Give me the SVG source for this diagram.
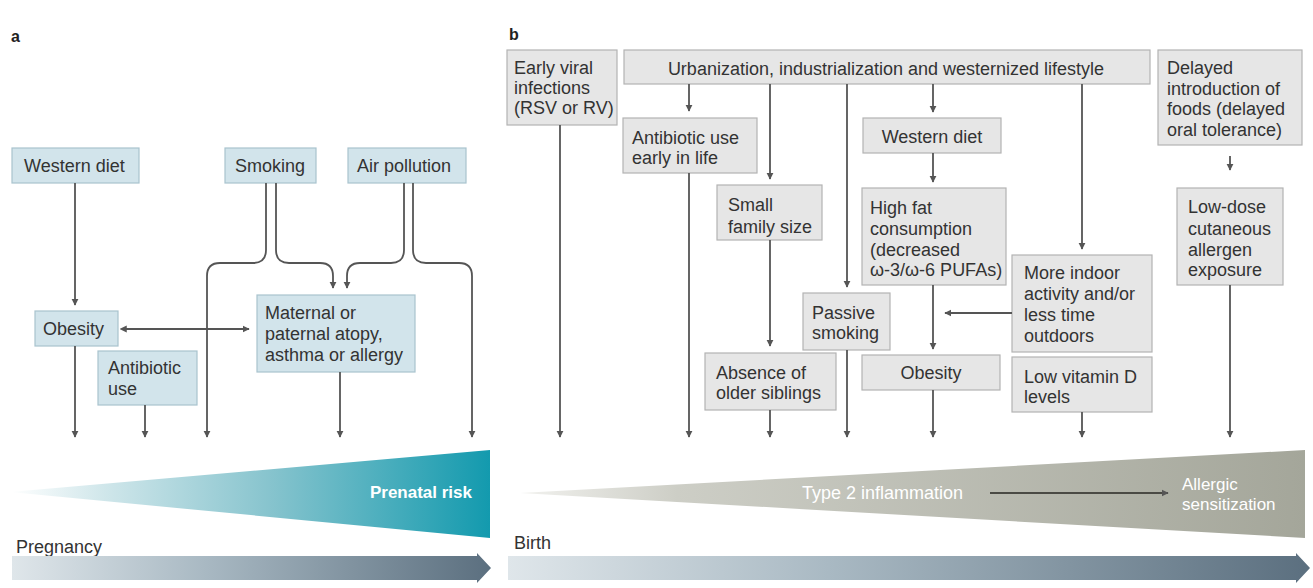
<svg xmlns="http://www.w3.org/2000/svg" width="1313" height="588" viewBox="0 0 1313 588">
<defs>
<style>
.t{font-family:"Liberation Sans",Arial,sans-serif;font-size:18px;fill:#333}
.lbl{font-family:"Liberation Sans",Arial,sans-serif;font-size:16px;font-weight:bold;fill:#222}
.ba{fill:#d2e4eb;stroke:#a9c3ce;stroke-width:1.2}
.bb{fill:#e6e6e6;stroke:#b3b3b3;stroke-width:1.2}
.c{fill:none;stroke:#555;stroke-width:1.8}
.w{font-family:"Liberation Sans",Arial,sans-serif;fill:#fff}
</style>
<marker id="ah" viewBox="0 0 10 10" refX="9" refY="5" markerWidth="4" markerHeight="4" orient="auto" markerUnits="strokeWidth">
<path d="M0,0 L10,5 L0,10 z" fill="#555"/>
</marker>
<marker id="ahs" viewBox="0 0 10 10" refX="1" refY="5" markerWidth="4" markerHeight="4" orient="auto-start-reverse" markerUnits="strokeWidth">
<path d="M0,0 L10,5 L0,10 z" fill="#555"/>
</marker>
<linearGradient id="gTeal" x1="0" y1="0" x2="1" y2="0">
<stop offset="0" stop-color="#ffffff"/>
<stop offset="0.2" stop-color="#cfe6ea"/>
<stop offset="0.55" stop-color="#85c3cd"/>
<stop offset="1" stop-color="#139aae"/>
</linearGradient>
<linearGradient id="gGrey" x1="0" y1="0" x2="1" y2="0">
<stop offset="0" stop-color="#f2f2ef"/>
<stop offset="0.2" stop-color="#cdcec6"/>
<stop offset="1" stop-color="#a4a69a"/>
</linearGradient>
<linearGradient id="gBar" x1="0" y1="0" x2="1" y2="0">
<stop offset="0" stop-color="#dfe6ea"/>
<stop offset="0.4" stop-color="#a9b9c3"/>
<stop offset="1" stop-color="#5b6f7f"/>
</linearGradient>
</defs>

<rect width="1313" height="588" fill="#ffffff"/>

<!-- Panel labels -->
<text class="lbl" x="11" y="42">a</text>
<text class="lbl" x="509" y="40">b</text>

<!-- Panel a nodes -->
<g id="a-western-diet"><rect class="ba" x="12" y="148" width="127" height="35"/><text class="t" x="24" y="172">Western diet</text></g>
<g id="a-smoking"><rect class="ba" x="225" y="148" width="91" height="35"/><text class="t" x="235" y="172">Smoking</text></g>
<g id="a-air-pollution"><rect class="ba" x="348" y="148" width="118" height="35"/><text class="t" x="357" y="172">Air pollution</text></g>
<g id="a-obesity"><rect class="ba" x="35" y="311" width="83" height="35"/><text class="t" x="43" y="335">Obesity</text></g>
<g id="a-antibiotic"><rect class="ba" x="98" y="351" width="99" height="54"/><text class="t" x="108" y="374">Antibiotic</text><text class="t" x="108" y="395">use</text></g>
<g id="a-maternal"><rect class="ba" x="257" y="295" width="158" height="77"/><text class="t" x="265" y="319">Maternal or</text><text class="t" x="265" y="340">paternal atopy,</text><text class="t" x="265" y="361">asthma or allergy</text></g>

<!-- Panel a connectors -->
<g id="a-connectors">
<path class="c" marker-end="url(#ah)" d="M75,183 V305"/>
<path class="c" marker-end="url(#ah)" d="M75,346 V437"/>
<path class="c" marker-end="url(#ah)" d="M145,405 V437"/>
<path class="c" marker-start="url(#ahs)" marker-end="url(#ah)" d="M126,329 H249"/>
<path class="c" marker-end="url(#ah)" d="M266,183 V250 Q266,263 253,263 H220 Q207,263 207,276 V437"/>
<path class="c" marker-end="url(#ah)" d="M276,183 V250 Q276,263 289,263 H320 Q333,263 333,276 V288"/>
<path class="c" marker-end="url(#ah)" d="M404,183 V250 Q404,263 391,263 H360 Q347,263 347,276 V288"/>
<path class="c" marker-end="url(#ah)" d="M413,183 V250 Q413,263 426,263 H459 Q472,263 472,276 V437"/>
<path class="c" marker-end="url(#ah)" d="M340,372 V437"/>
</g>

<!-- Panel a risk wedge and timeline -->
<g id="a-prenatal-risk">
<polygon points="10,492 490,450 490,538" fill="url(#gTeal)"/>
<text class="w" x="472" y="498" font-size="17" font-weight="bold" text-anchor="end">Prenatal risk</text>
</g>
<g id="a-pregnancy">
<text class="t" x="16" y="553" font-size="17">Pregnancy</text>
<polygon points="12,556 477,556 477,553 491,568 477,583 477,580 12,580" fill="url(#gBar)"/>
</g>

<!-- Panel b nodes -->
<g id="b-early-viral"><rect class="bb" x="507" y="50" width="110" height="75"/><text class="t" x="514" y="74">Early viral</text><text class="t" x="514" y="94">infections</text><text class="t" x="514" y="114" font-size="17">(RSV or RV)</text></g>
<g id="b-urbanization"><rect class="bb" x="624" y="50" width="526" height="34"/><text class="t" x="886" y="75" text-anchor="middle">Urbanization, industrialization and westernized lifestyle</text></g>
<g id="b-delayed"><rect class="bb" x="1158" y="50" width="144" height="95"/><text class="t" x="1167" y="74">Delayed</text><text class="t" x="1167" y="95">introduction of</text><text class="t" x="1167" y="115">foods (delayed</text><text class="t" x="1167" y="136">oral tolerance)</text></g>
<g id="b-antibiotic"><rect class="bb" x="623" y="118" width="134" height="55"/><text class="t" x="632" y="144">Antibiotic use</text><text class="t" x="632" y="164">early in life</text></g>
<g id="b-western-diet"><rect class="bb" x="863" y="118" width="138" height="35"/><text class="t" x="932" y="143" text-anchor="middle">Western diet</text></g>
<g id="b-small-family"><rect class="bb" x="717" y="185" width="105" height="55"/><text class="t" x="728" y="211">Small</text><text class="t" x="728" y="233">family size</text></g>
<g id="b-high-fat"><rect class="bb" x="862" y="188" width="144" height="97"/><text class="t" x="870" y="214">High fat</text><text class="t" x="870" y="235">consumption</text><text class="t" x="870" y="256">(decreased</text><text class="t" x="870" y="276">ω-3/ω-6 PUFAs)</text></g>
<g id="b-low-dose"><rect class="bb" x="1177" y="188" width="106" height="97"/><text class="t" x="1188" y="213">Low-dose</text><text class="t" x="1188" y="235">cutaneous</text><text class="t" x="1188" y="256">allergen</text><text class="t" x="1188" y="276">exposure</text></g>
<g id="b-indoor"><rect class="bb" x="1012" y="255" width="140" height="97"/><text class="t" x="1024" y="279">More indoor</text><text class="t" x="1024" y="300">activity and/or</text><text class="t" x="1024" y="321">less time</text><text class="t" x="1024" y="342">outdoors</text></g>
<g id="b-vitamin-d"><rect class="bb" x="1012" y="357" width="140" height="55"/><text class="t" x="1024" y="383">Low vitamin D</text><text class="t" x="1024" y="403">levels</text></g>
<g id="b-passive-smoking"><rect class="bb" x="803" y="293" width="87" height="57"/><text class="t" x="812" y="319">Passive</text><text class="t" x="812" y="339">smoking</text></g>
<g id="b-obesity"><rect class="bb" x="862" y="355" width="138" height="35"/><text class="t" x="931" y="379" text-anchor="middle">Obesity</text></g>
<g id="b-siblings"><rect class="bb" x="705" y="353" width="131" height="57"/><text class="t" x="716" y="379">Absence of</text><text class="t" x="716" y="399">older siblings</text></g>

<!-- Panel b connectors -->
<g id="b-connectors">
<path class="c" marker-end="url(#ah)" d="M560,125 V437"/>
<path class="c" marker-end="url(#ah)" d="M689,84 V111"/>
<path class="c" marker-end="url(#ah)" d="M689,173 V437"/>
<path class="c" marker-end="url(#ah)" d="M770,84 V179"/>
<path class="c" marker-end="url(#ah)" d="M770,240 V346"/>
<path class="c" marker-end="url(#ah)" d="M770,410 V437"/>
<path class="c" marker-end="url(#ah)" d="M847,84 V287"/>
<path class="c" marker-end="url(#ah)" d="M847,350 V437"/>
<path class="c" marker-end="url(#ah)" d="M933,84 V112"/>
<path class="c" marker-end="url(#ah)" d="M933,153 V182"/>
<path class="c" marker-end="url(#ah)" d="M933,285 V349"/>
<path class="c" marker-end="url(#ah)" d="M933,390 V437"/>
<path class="c" marker-end="url(#ah)" d="M1012,313 H945"/>
<path class="c" marker-end="url(#ah)" d="M1082,84 V249"/>
<path class="c" marker-end="url(#ah)" d="M1082,412 V437"/>
<path class="c" marker-end="url(#ah)" d="M1230,156 V170"/>
<path class="c" marker-end="url(#ah)" d="M1230,285 V437"/>
</g>

<!-- Panel b inflammation wedge and timeline -->
<g id="b-inflammation">
<polygon points="520,493 1305,450 1305,538" fill="url(#gGrey)"/>
<text class="w" x="802" y="499" font-size="18">Type 2 inflammation</text>
<path d="M990,493 H1168" stroke="#4a4a44" stroke-width="1.8" fill="none" marker-end="url(#ah)"/>
<text class="w" x="1182" y="490" font-size="17">Allergic</text>
<text class="w" x="1182" y="510" font-size="17">sensitization</text>
</g>
<g id="b-birth">
<text class="t" x="514" y="549" font-size="17">Birth</text>
<polygon points="508,556 1296,556 1296,553 1310,568 1296,583 1296,580 508,580" fill="url(#gBar)"/>
</g>
</svg>
